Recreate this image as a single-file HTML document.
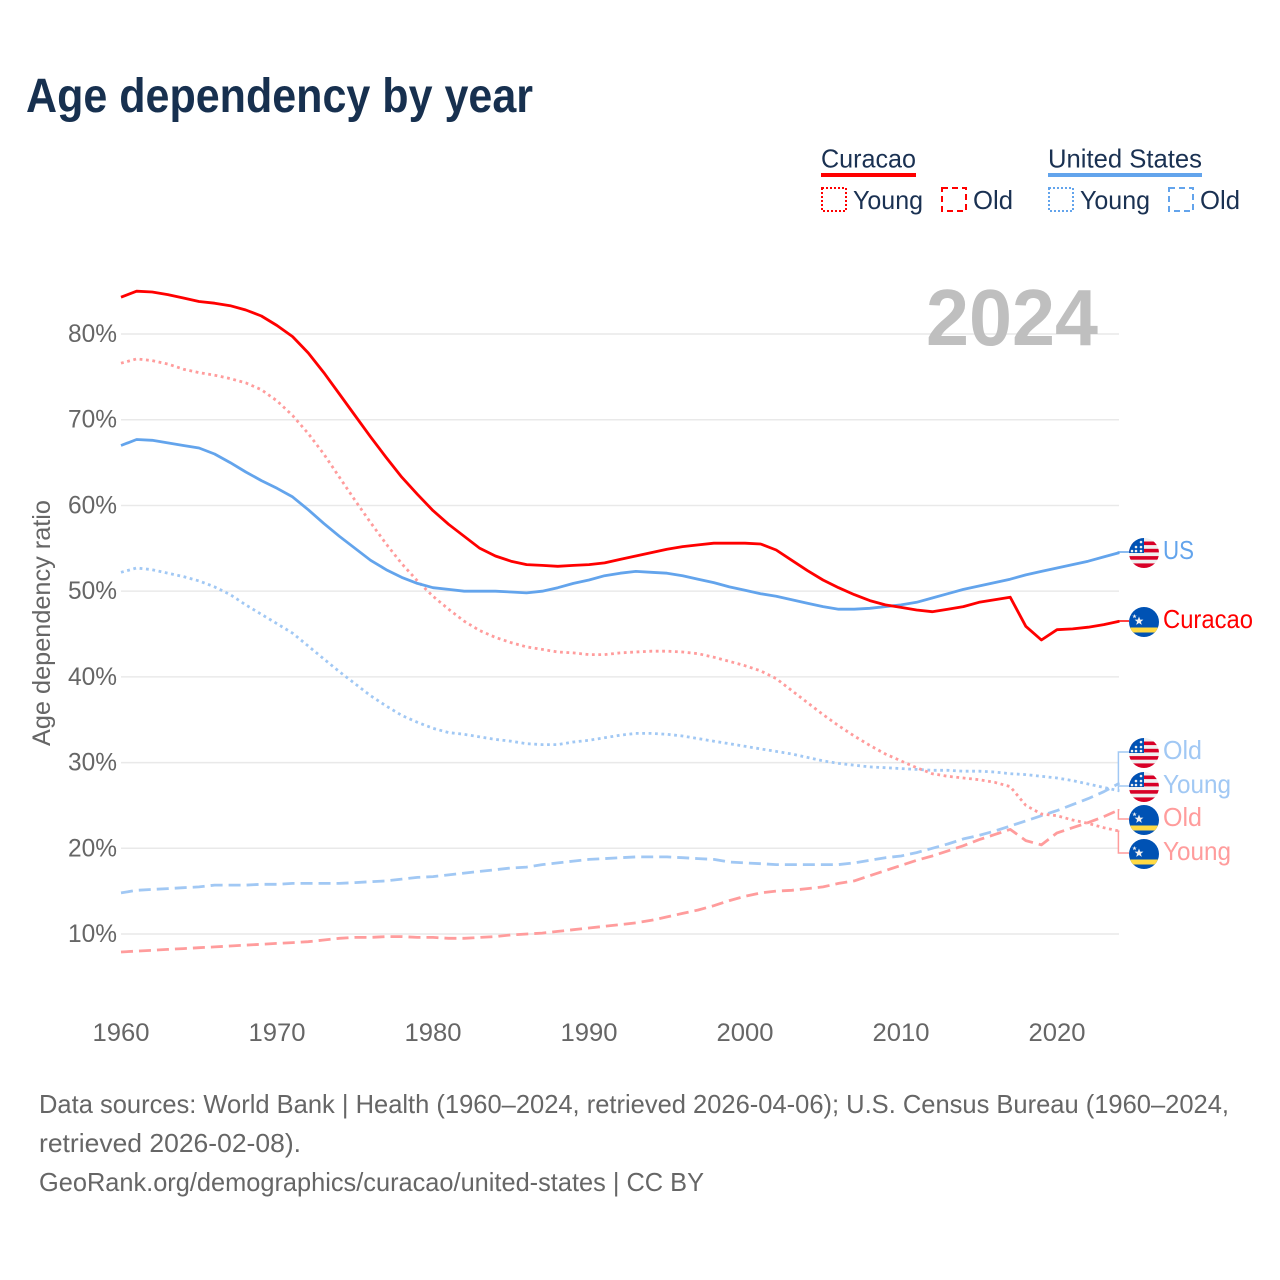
<!DOCTYPE html>
<html lang="en">
<head>
<meta charset="utf-8">
<title>Age dependency by year</title>
<style>
html,body{margin:0;padding:0;background:#fff}
svg{display:block}
text{font-family:"Liberation Sans",sans-serif}
</style>
</head>
<body>
<svg id="chart" xmlns="http://www.w3.org/2000/svg" width="1280" height="1280" viewBox="0 0 1280 1280">
<defs>
<clipPath id="flag-clip"><circle cx="0" cy="0" r="15"/></clipPath>
<g id="flag-us" clip-path="url(#flag-clip)">
<rect x="-15" y="-15" width="30" height="30" fill="#f0f0f0"/>
<rect x="-15" y="-11.5" width="30" height="3.6" fill="#d80027"/>
<rect x="-15" y="-4.2" width="30" height="3.6" fill="#d80027"/>
<rect x="-15" y="3.1" width="30" height="3.6" fill="#d80027"/>
<rect x="-15" y="10.4" width="30" height="5" fill="#d80027"/>
<rect x="-15" y="-15" width="15" height="15" fill="#0052b4"/>
<circle cx="-3" cy="-11" r="1.3" fill="#f0f0f0"/><circle cx="-3" cy="-6" r="1.3" fill="#f0f0f0"/><circle cx="-3" cy="-2" r="1.3" fill="#f0f0f0"/>
<circle cx="-8" cy="-6" r="1.3" fill="#f0f0f0"/><circle cx="-8" cy="-2" r="1.3" fill="#f0f0f0"/><circle cx="-12" cy="-2" r="1.3" fill="#f0f0f0"/>
</g>
<g id="flag-cw" clip-path="url(#flag-clip)">
<rect x="-15" y="-15" width="30" height="30" fill="#0052b4"/>
<rect x="-15" y="5.5" width="30" height="5" fill="#ffda44"/>
<polygon points="-5,-5.5 -3.8,-2.4 -0.6,-2.4 -3.1,-0.3 -2.2,2.9 -5,1 -7.8,2.9 -6.9,-0.3 -9.4,-2.4 -6.2,-2.4" fill="#f0f0f0"/>
<polygon points="-9.5,-8 -8.9,-6.4 -7.3,-6.4 -8.6,-5.4 -8.1,-3.8 -9.5,-4.8 -10.9,-3.8 -10.4,-5.4 -11.7,-6.4 -10.1,-6.4" fill="#f0f0f0"/>
</g>
</defs>

<rect width="1280" height="1280" fill="#ffffff"/>

<text x="26" y="112" font-size="48" font-weight="700" fill="#17304f" textLength="507" lengthAdjust="spacingAndGlyphs">Age dependency by year</text>

<g font-size="26" fill="#1a3152">
<text x="821" y="167.5" textLength="95" lengthAdjust="spacingAndGlyphs">Curacao</text>
<rect x="821" y="173" width="95" height="4" fill="#ff0000"/>
<rect x="822" y="188" width="24" height="23" fill="none" stroke="#ff0000" stroke-width="2" stroke-dasharray="2 2"/>
<text x="853" y="209" textLength="70" lengthAdjust="spacingAndGlyphs">Young</text>
<rect x="942" y="188" width="24" height="23" fill="none" stroke="#ff0000" stroke-width="2" stroke-dasharray="6 4"/>
<text x="973" y="209" textLength="40" lengthAdjust="spacingAndGlyphs">Old</text>
<text x="1048" y="167.5" textLength="154" lengthAdjust="spacingAndGlyphs">United States</text>
<rect x="1048" y="173" width="154" height="4" fill="#63a4ec"/>
<rect x="1049" y="188" width="24" height="23" fill="none" stroke="#63a4ec" stroke-width="2" stroke-dasharray="2 2"/>
<text x="1080" y="209" textLength="70" lengthAdjust="spacingAndGlyphs">Young</text>
<rect x="1169" y="188" width="24" height="23" fill="none" stroke="#63a4ec" stroke-width="2" stroke-dasharray="6 4"/>
<text x="1200" y="209" textLength="40" lengthAdjust="spacingAndGlyphs">Old</text>
</g>

<g id="grid"></g>
<g id="y-ticks"></g>
<g id="x-ticks"></g>

<text transform="translate(50,746) rotate(-90)" font-size="25" fill="#666666" textLength="246" lengthAdjust="spacingAndGlyphs">Age dependency ratio</text>

<text x="926" y="345" font-size="80" font-weight="700" fill="#bfbfbf" textLength="172" lengthAdjust="spacingAndGlyphs">2024</text>

<g id="series"></g>
<g id="end-labels"></g>

<g font-size="26" fill="#666666">
<text x="39" y="1113" textLength="1190" lengthAdjust="spacingAndGlyphs">Data sources: World Bank | Health (1960–2024, retrieved 2026-04-06); U.S. Census Bureau (1960–2024,</text>
<text x="39" y="1152" textLength="262" lengthAdjust="spacingAndGlyphs">retrieved 2026-02-08).</text>
<text x="39" y="1191" textLength="665" lengthAdjust="spacingAndGlyphs">GeoRank.org/demographics/curacao/united-states | CC BY</text>
</g>
</svg>

<script>
var firstYear = 1960;
var yTickValues = [10, 20, 30, 40, 50, 60, 70, 80];
var xTickValues = [1960, 1970, 1980, 1990, 2000, 2010, 2020];

var curacaoTotal = [84.3,85.0,84.9,84.6,84.2,83.8,83.6,83.3,82.8,82.1,81.0,79.7,77.8,75.5,73.0,70.5,68.0,65.6,63.3,61.3,59.4,57.8,56.4,55.0,54.1,53.5,53.1,53.0,52.9,53.0,53.1,53.3,53.7,54.1,54.5,54.9,55.2,55.4,55.6,55.6,55.6,55.5,54.8,53.6,52.4,51.3,50.4,49.6,48.9,48.4,48.1,47.8,47.6,47.9,48.2,48.7,49.0,49.3,45.9,44.3,45.5,45.6,45.8,46.1,46.5];
var curacaoYoung = [76.6,77.1,76.9,76.5,75.9,75.5,75.2,74.8,74.3,73.5,72.2,70.5,68.4,66.0,63.3,60.6,58.0,55.5,53.2,51.2,49.4,47.9,46.5,45.4,44.6,44.0,43.5,43.2,42.9,42.8,42.6,42.6,42.8,42.9,43.0,43.0,42.9,42.7,42.3,41.8,41.3,40.7,39.8,38.4,37.0,35.6,34.3,33.1,32.0,31.0,30.2,29.4,28.7,28.4,28.2,28.0,27.7,27.2,25.0,24.0,23.8,23.3,22.9,22.4,22.0];
var curacaoOld = [7.9,8.0,8.1,8.2,8.3,8.4,8.5,8.6,8.7,8.8,8.9,9.0,9.1,9.3,9.5,9.6,9.6,9.7,9.7,9.6,9.6,9.5,9.5,9.6,9.7,9.9,10.0,10.1,10.3,10.5,10.7,10.9,11.1,11.3,11.6,12.0,12.4,12.8,13.3,13.9,14.4,14.8,15.0,15.1,15.3,15.5,15.9,16.2,16.8,17.4,18.0,18.6,19.1,19.7,20.3,21.0,21.6,22.2,20.9,20.4,21.8,22.4,23.0,23.7,24.5];
var usTotal = [67.0,67.7,67.6,67.3,67.0,66.7,66.0,65.0,63.9,62.9,62.0,61.0,59.5,57.9,56.4,55.0,53.6,52.5,51.6,50.9,50.4,50.2,50.0,50.0,50.0,49.9,49.8,50.0,50.4,50.9,51.3,51.8,52.1,52.3,52.2,52.1,51.8,51.4,51.0,50.5,50.1,49.7,49.4,49.0,48.6,48.2,47.9,47.9,48.0,48.2,48.4,48.7,49.2,49.7,50.2,50.6,51.0,51.4,51.9,52.3,52.7,53.1,53.5,54.0,54.5];
var usYoung = [52.2,52.7,52.5,52.1,51.7,51.2,50.5,49.6,48.4,47.3,46.2,45.1,43.6,42.1,40.6,39.2,37.8,36.6,35.5,34.7,34.0,33.5,33.3,33.0,32.7,32.5,32.2,32.1,32.1,32.4,32.6,32.9,33.2,33.4,33.4,33.3,33.1,32.8,32.5,32.2,31.9,31.6,31.3,31.0,30.6,30.2,29.9,29.7,29.5,29.4,29.3,29.2,29.1,29.1,29.0,29.0,28.9,28.7,28.6,28.4,28.2,27.9,27.5,27.1,26.7];
var usOld = [14.8,15.1,15.2,15.3,15.4,15.5,15.7,15.7,15.7,15.8,15.8,15.9,15.9,15.9,15.9,16.0,16.1,16.2,16.4,16.6,16.7,16.9,17.1,17.3,17.5,17.7,17.8,18.1,18.3,18.5,18.7,18.8,18.9,19.0,19.0,19.0,18.9,18.8,18.7,18.4,18.3,18.2,18.1,18.1,18.1,18.1,18.1,18.3,18.6,18.9,19.1,19.5,20.0,20.5,21.1,21.5,22.0,22.6,23.2,23.8,24.4,25.1,25.8,26.6,27.6];

var NS = 'http://www.w3.org/2000/svg';
function xScale(year) { return 121 + (year - 1960) * 15.6; }
function yScale(value) { return 934 - (value - 10) * 8.571; }
function make(tag, parent, attrs) {
  var el = document.createElementNS(NS, tag);
  for (var k in attrs) el.setAttribute(k, attrs[k]);
  parent.appendChild(el);
  return el;
}

var gridGroup = document.getElementById('grid');
var yGroup = document.getElementById('y-ticks');
yTickValues.forEach(function (v) {
  var line = make('line', gridGroup, { x1: 121, x2: 1119, y1: yScale(v), y2: yScale(v), stroke: '#e9e9e9', 'stroke-width': 1.5 });
  
  
  var label = make('text', yGroup, { x: 117, y: yScale(v) + 8, 'text-anchor': 'end', 'font-size': 25, fill: '#666666', textLength: 49, lengthAdjust: 'spacingAndGlyphs' });
  
  
  label.textContent = v + '%';
});

var xGroup = document.getElementById('x-ticks');
xTickValues.forEach(function (y) {
  var label = make('text', xGroup, { x: xScale(y), y: 1041, 'text-anchor': 'middle', 'font-size': 25, fill: '#666666', textLength: 57, lengthAdjust: 'spacingAndGlyphs' });
  
  
  label.textContent = y;
});

var seriesGroup = document.getElementById('series');
function drawSeries(values, colour, dash, name) {
  var pts = values.map(function (v, i) { return xScale(firstYear + i).toFixed(1) + ',' + yScale(v).toFixed(1); }).join(' ');
  var attrs = { points: pts, fill: 'none', stroke: colour, 'stroke-width': 2.8, 'stroke-linejoin': 'round' };
  if (dash) attrs['stroke-dasharray'] = dash;
  var line = make('polyline', seriesGroup, attrs);
  
  
}
drawSeries(usOld, '#a1c8f4', '12 6', 'line-us-old');
drawSeries(curacaoOld, '#ff9c9c', '12 6', 'line-curacao-old');
drawSeries(usYoung, '#a1c8f4', '2.8 3.6', 'line-us-young');
drawSeries(curacaoYoung, '#ff9c9c', '2.8 3.6', 'line-curacao-young');
drawSeries(usTotal, '#63a4ec', null, 'line-us-total');
drawSeries(curacaoTotal, '#ff0000', null, 'line-curacao-total');

var endGroup = document.getElementById('end-labels');
var endX = xScale(2024);
function endLabel(values, labelY, colour, flag, text, width, name) {
  var startY = yScale(values[values.length - 1]);
  var path = make('path', endGroup, { d: 'M' + endX + ' ' + startY + ' L' + (endX - 1) + ' ' + startY + ' L' + (endX - 1) + ' ' + labelY + ' L1129 ' + labelY, fill: 'none', stroke: colour, 'stroke-width': 1.5 });
  
  
  var icon = make('use', endGroup, { href: '#' + flag, x: 1144, y: labelY + 1 });
  
  
  var label = make('text', endGroup, { x: 1163, y: labelY + 7, 'font-size': 26, fill: colour, textLength: width, lengthAdjust: 'spacingAndGlyphs' });
  
  
  label.textContent = text;
}
endLabel(usTotal, 552, '#63a4ec', 'flag-us', 'US', 31, 'end-us-total');
endLabel(curacaoTotal, 621, '#ff0000', 'flag-cw', 'Curacao', 90, 'end-curacao-total');
endLabel(usOld, 752, '#a1c8f4', 'flag-us', 'Old', 39, 'end-us-old');
endLabel(usYoung, 786, '#a1c8f4', 'flag-us', 'Young', 68, 'end-us-young');
endLabel(curacaoOld, 819, '#ff9c9c', 'flag-cw', 'Old', 39, 'end-curacao-old');
endLabel(curacaoYoung, 853, '#ff9c9c', 'flag-cw', 'Young', 68, 'end-curacao-young');
</script>
</body>
</html>
